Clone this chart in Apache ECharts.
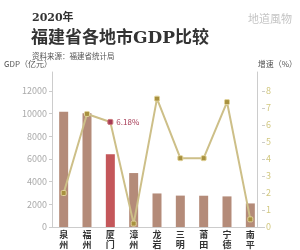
<!DOCTYPE html>
<html><head><meta charset="utf-8">
<script src="https://cdn.jsdelivr.net/npm/echarts@6/dist/echarts.min.js"></script>
<style>html,body{margin:0;padding:0;background:#fff}#c{width:300px;height:250px}</style>
</head><body><div id="c"></div>
<script>
const categories = ['泉州','福州','厦门','漳州','龙岩','三明','莆田','宁德','南平'];
const gdpValues = [10160, 10040, 6420, 4760, 2960, 2770, 2760, 2700, 2080];
const growthValues = [2.0, 6.65, 6.18, 0.2, 7.55, 4.05, 4.05, 7.35, 0.45];
const gdpTicks = [0, 2000, 4000, 6000, 8000, 10000, 12000];
const growthTicks = [0, 1, 2, 3, 4, 5, 6, 7, 8];
const highlightCity = '厦门';

const serif = '"DejaVu Serif","Noto Sans CJK SC",serif';
const sans = '"Noto Sans CJK SC","DejaVu Sans",sans-serif';

const chart = echarts.init(document.getElementById('c'), null, {renderer:'canvas'});
const G = {left:52, right:38, bottom:23};
chart.setOption({
  animation:false,
  backgroundColor:'#fff',
  title:[
    {text:'2020年', left:27, top:8, textStyle:{fontFamily:serif, fontWeight:'bold', fontSize:11, color:'#333'}},
    {text:'福建省各地市GDP比较', left:26, top:25, textStyle:{fontFamily:serif, fontWeight:'bold', fontSize:17, color:'#333'}},
    {text:'资料来源：福建省统计局', left:27, top:47, textStyle:{fontFamily:sans, fontWeight:'normal', fontSize:7.5, color:'#555'}},
    {text:'地道風物', left:243, top:10, textStyle:{fontFamily:serif, fontWeight:'normal', fontSize:11, color:'#c4c4c4'}}
  ],
  grid:[
    {left:G.left, right:G.right, top:91, bottom:G.bottom},
    {left:G.left, right:G.right, top:72, bottom:G.bottom}
  ],
  xAxis:[
    {type:'category', gridIndex:0, data:categories,
     axisLine:{show:true, lineStyle:{color:'#ccc', width:1}},
     axisTick:{show:false},
     axisLabel:{interval:0, margin:3, fontFamily:sans, fontWeight:'bold', fontSize:9, lineHeight:10, color:'#333',
       formatter:v=>v.split('').join('\n')}},
    {type:'category', gridIndex:1, data:categories, show:false}
  ],
  yAxis:[
    {type:'value', gridIndex:0, min:gdpTicks[0], max:gdpTicks[gdpTicks.length-1], interval:2000,
     axisLine:{show:false}, splitLine:{show:false},
     axisTick:{show:true, length:3, lineStyle:{color:'#ccc'}},
     axisLabel:{fontFamily:sans, fontSize:9, color:'#aaa', margin:5, formatter:v=>String(v)}},
    {type:'value', gridIndex:0, position:'right', min:growthTicks[0], max:growthTicks[growthTicks.length-1], interval:1,
     axisLine:{show:false}, splitLine:{show:false},
     axisTick:{show:true, length:3, lineStyle:{color:'#ccc'}},
     axisLabel:{fontFamily:sans, fontSize:9, color:'#d2c880', margin:4, formatter:v=>String(v)}},
    {type:'value', gridIndex:1, min:0, max:1,
     name:'GDP（亿元）', nameLocation:'end', nameGap:4,
     nameTextStyle:{fontFamily:sans, fontSize:8, color:'#555', align:'right'},
     axisLine:{show:true, lineStyle:{color:'#ccc'}}, axisTick:{show:false}, axisLabel:{show:false}, splitLine:{show:false}},
    {type:'value', gridIndex:1, position:'right', min:0, max:1,
     name:'增速（%）', nameLocation:'end', nameGap:4,
     nameTextStyle:{fontFamily:sans, fontSize:8, color:'#555', align:'left'},
     axisLine:{show:true, lineStyle:{color:'#ccc'}}, axisTick:{show:false}, axisLabel:{show:false}, splitLine:{show:false}}
  ],
  series:[
    {type:'bar', xAxisIndex:0, yAxisIndex:0, barWidth:9,
     data:gdpValues.map((v,i)=>({value:v, itemStyle:{color: categories[i]===highlightCity ? '#c4575a' : '#b48b79'}}))},
    {type:'line', xAxisIndex:0, yAxisIndex:1, z:5,
     symbol:'roundRect', symbolSize:5,
     lineStyle:{color:'#cdbf88', width:2},
     itemStyle:{color:'#a8913f', borderColor:'#e2d49c', borderWidth:1},
     data:growthValues.map((v,i)=> categories[i]===highlightCity ? {
        value:v, itemStyle:{color:'#a63a55', borderColor:'#c77', borderWidth:1},
        label:{show:true, position:'right', distance:3, formatter:'6.18%', fontFamily:sans, fontSize:8, color:'#a63a55'}
      } : v)}
  ]
});
</script></body></html>
